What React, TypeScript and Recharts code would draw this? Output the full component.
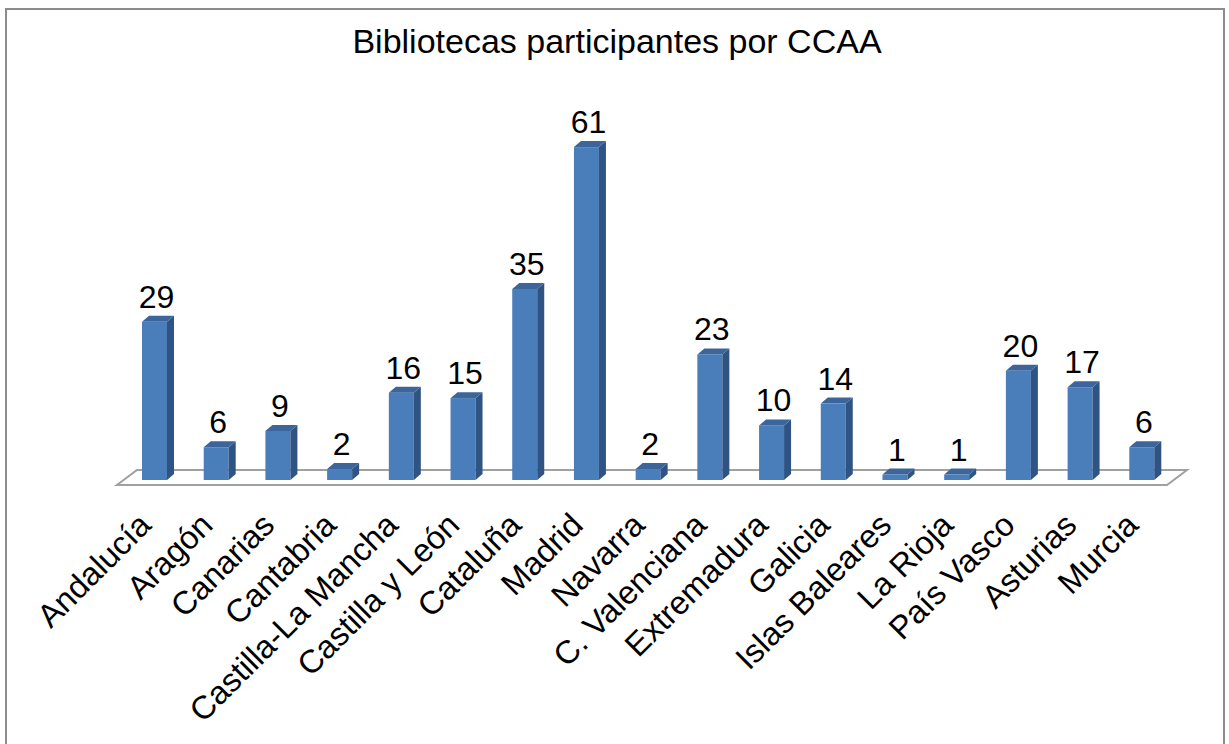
import { BarChart, Bar, XAxis, YAxis, LabelList, Customized } from "recharts";

const CATEGORIES = [
  "Andalucía", "Aragón", "Canarias", "Cantabria", "Castilla-La Mancha",
  "Castilla y León", "Cataluña", "Madrid", "Navarra", "C. Valenciana",
  "Extremadura", "Galicia", "Islas Baleares", "La Rioja", "País Vasco",
  "Asturias", "Murcia",
];
const VALUES = [29, 6, 9, 2, 16, 15, 35, 61, 2, 23, 10, 14, 1, 1, 20, 17, 6];
const Y_DOMAIN = [0, 70];
const TITLE = "Bibliotecas participantes por CCAA";

const FONT = '"Liberation Sans", Arial, sans-serif';
const W = 1229;
const H = 744;
const M = { top: 98, right: 56, left: 124, bottom: 234 };
const PLOT_L = M.left;
const PLOT_R = W - M.right;
const PLOT_B = H - M.bottom - 30;

const FRONT = "#4a7ebb";
const SIDE = "#2f5383";
const TOP = "#3c669b";
const DX = 7;
const DY = 6;

const data = CATEGORIES.map((name, i) => ({ name, value: VALUES[i] }));

function Bar3D(props: any) {
  const { x, y, width, height } = props;
  if (width == null || height == null) return null;
  const r = x + width;
  const b = y + height;
  return (
    <g>
      <rect x={x} y={y} width={width} height={height} fill={FRONT} />
      <polygon points={`${r},${y} ${r + DX},${y - DY} ${r + DX},${b - DY} ${r},${b}`} fill={SIDE} />
      <polygon points={`${x},${y} ${x + DX},${y - DY} ${r + DX},${y - DY} ${r},${y}`} fill={TOP} />
    </g>
  );
}

function ValueLabel(props: any) {
  const { x, y, width, value } = props;
  return (
    <text x={x + width / 2 + 2} y={y - 14} textAnchor="middle" fontSize={32} fontFamily={FONT} fill="#000">
      {value}
    </text>
  );
}

function CategoryTick(props: any) {
  const { x, y, payload } = props;
  return (
    <text
      transform={`translate(${x - 2},${y + 47}) rotate(-45)`}
      textAnchor="end"
      fontSize={32.5}
      fontFamily={FONT}
      fill="#000"
    >
      {payload.value}
    </text>
  );
}

function Floor() {
  const fy = PLOT_B + 5;
  const by = PLOT_B - 10;
  return (
    <g>
      <text x={617} y={53} textAnchor="middle" fontSize={34} fontFamily={FONT} fill="#000">
        {TITLE}
      </text>
      <polygon
        points={`${PLOT_L - 7},${fy} ${PLOT_R - 6},${fy} ${PLOT_R + 14},${by} ${PLOT_L + 13},${by}`}
        fill="#fff"
        stroke="#a0a0a0"
        strokeWidth={2}
      />
    </g>
  );
}

export default function App() {
  return (
    <div style={{ position: "absolute", left: 0, top: 0, width: W, height: H, background: "#fff", overflow: "hidden" }}>
      <div
        style={{
          position: "absolute", left: 5, top: 8, width: 1220, height: 780,
          border: "2px solid #8c8c8c", boxSizing: "border-box",
        }}
      />
      <div style={{ position: "absolute", left: 0, top: 0 }}>
        <BarChart width={W} height={H} data={data} margin={M}>
          <Customized component={Floor} />
          <XAxis
            dataKey="name"
            interval={0}
            axisLine={false}
            tickLine={false}
            tickSize={0}
            tickMargin={0}
            tick={<CategoryTick />}
          />
          <YAxis hide domain={Y_DOMAIN} />
          <Bar dataKey="value" barSize={25} shape={<Bar3D />} isAnimationActive={false}>
            <LabelList dataKey="value" content={<ValueLabel />} />
          </Bar>
        </BarChart>
      </div>
    </div>
  );
}
